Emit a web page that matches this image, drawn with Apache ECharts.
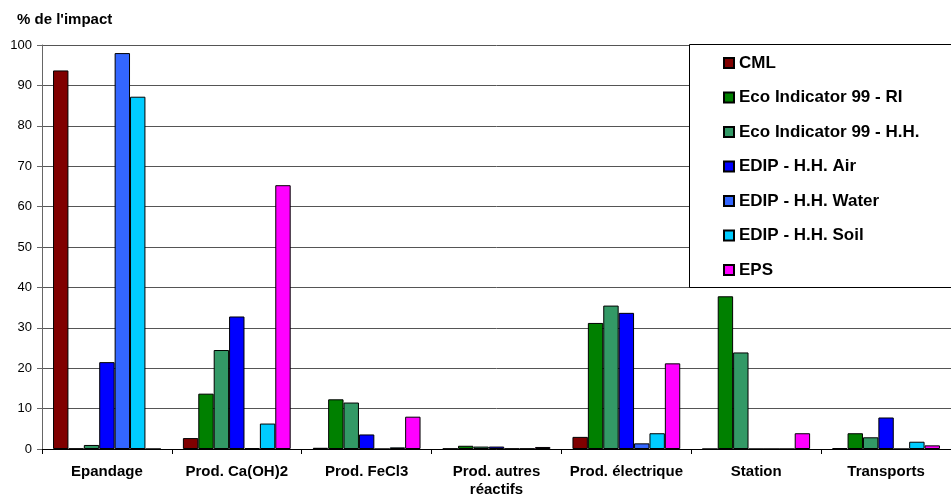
<!DOCTYPE html>
<html><head><meta charset="utf-8">
<script src="https://cdn.jsdelivr.net/npm/echarts@6/dist/echarts.min.js"></script>
<style>html,body{margin:0;padding:0;background:#fff}#c{width:951px;height:499px}</style>
</head><body><div id="c"></div>
<script>
const categories = ['Epandage','Prod. Ca(OH)2','Prod. FeCl3','Prod. autres\nréactifs','Prod. électrique','Station','Transports'];
const seriesNames = ['CML','Eco Indicator 99 - RI','Eco Indicator 99 - H.H.','EDIP - H.H. Air','EDIP - H.H. Water','EDIP - H.H. Soil','EPS'];
const cml      = [93.7, 2.7, 0.3, 0.1, 3.0, 0, 0.2];
const ecoRI    = [0.1, 13.7, 12.3, 0.8, 31.2, 37.8, 3.9];
const ecoHH    = [1.0, 24.5, 11.5, 0.6, 35.5, 23.9, 2.9];
const edipAir  = [21.5, 32.8, 3.6, 0.6, 33.7, 0, 7.8];
const edipWater= [98.0, 0.2, 0, 0.1, 1.4, 0, 0];
const edipSoil = [87.2, 6.3, 0.4, 0.1, 3.9, 0, 1.8];
const eps      = [0, 65.3, 8.0, 0.5, 21.2, 3.9, 0.9];
const seriesData = [cml, ecoRI, ecoHH, edipAir, edipWater, edipSoil, eps];
const colors = ['#800000','#008000','#339966','#0000FF','#3366FF','#00CCFF','#FF00FF'];
const yTicks = [0,10,20,30,40,50,60,70,80,90,100];

const font = 'Liberation Sans, Arial, sans-serif';
const chart = echarts.init(document.getElementById('c'));
chart.setOption({
  animation: false,
  color: colors,
  textStyle: {fontFamily: font},
  grid: {left: 42, right: 0, top: 45, bottom: 49},
  title: {text: "% de l'impact", left: 12, top: 7, textStyle: {fontFamily: font, fontSize: 15, fontWeight: 'bold', color: '#000'}},
  graphic: [{type: 'rect', z: 50, shape: {x: 689.5, y: 44.5, width: 270, height: 243}, style: {fill: '#fff', stroke: '#000', lineWidth: 1}}],
  legend: {
    z: 60, orient: 'vertical', left: 718, top: 48, itemWidth: 10, itemHeight: 10, itemGap: 14.5,
    icon: 'rect',
    textStyle: {fontFamily: font, fontSize: 17, fontWeight: 'bold', color: '#000', lineHeight: 20},
    data: seriesNames
  },
  xAxis: {
    type: 'category', data: categories,
    axisLine: {lineStyle: {color: '#000'}},
    axisTick: {show: true, length: 5, lineStyle: {color: '#000'}},
    axisLabel: {fontFamily: font, fontSize: 15, fontWeight: 'bold', color: '#000', margin: 14, lineHeight: 18, interval: 0}
  },
  yAxis: {
    type: 'value', min: 0, max: 100, interval: 10,
    axisLine: {show: true, lineStyle: {color: '#666'}},
    axisTick: {show: true, length: 5, lineStyle: {color: '#666'}},
    axisLabel: {fontFamily: font, fontSize: 13, color: '#000', margin: 10},
    splitLine: {lineStyle: {color: '#555', width: 1}}
  },
  series: seriesNames.map((n, i) => ({
    name: n, type: 'bar', data: seriesData[i],
    barGap: '0%', barCategoryGap: '17%',
    itemStyle: {color: colors[i], borderColor: '#000', borderWidth: 1}
  }))
});
</script></body></html>
